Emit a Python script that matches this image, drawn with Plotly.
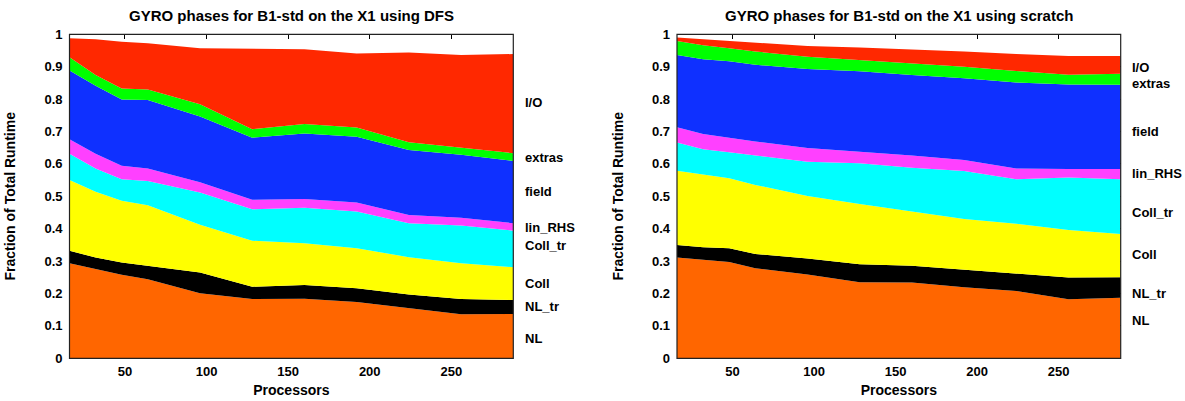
import plotly.graph_objects as go

processors = [16, 32, 48, 64, 96, 128, 160, 192, 224, 256, 288]
phases = ["NL", "NL_tr", "Coll", "Coll_tr", "lin_RHS", "field", "extras", "I/O"]

# Fraction of total runtime for each phase (DFS)
dfs_NL      = [0.293, 0.275, 0.258, 0.244, 0.201, 0.183, 0.184, 0.174, 0.156, 0.136, 0.137]
dfs_NL_tr   = [0.039, 0.036, 0.038, 0.041, 0.064, 0.038, 0.042, 0.042, 0.041, 0.047, 0.043]
dfs_Coll    = [0.218, 0.203, 0.190, 0.187, 0.147, 0.142, 0.129, 0.124, 0.115, 0.110, 0.101]
dfs_Coll_tr = [0.081, 0.072, 0.067, 0.075, 0.100, 0.097, 0.110, 0.113, 0.105, 0.117, 0.113]
dfs_lin_RHS = [0.045, 0.045, 0.041, 0.039, 0.031, 0.029, 0.027, 0.028, 0.025, 0.024, 0.023]
dfs_field   = [0.212, 0.210, 0.205, 0.211, 0.203, 0.192, 0.202, 0.203, 0.201, 0.194, 0.192]
dfs_extras  = [0.041, 0.033, 0.034, 0.033, 0.038, 0.026, 0.029, 0.028, 0.024, 0.022, 0.024]
dfs_IO      = [0.059, 0.111, 0.144, 0.142, 0.173, 0.248, 0.231, 0.229, 0.277, 0.286, 0.306]

# Fraction of total runtime for each phase (scratch)
scr_NL      = [0.311, 0.303, 0.297, 0.278, 0.259, 0.235, 0.234, 0.219, 0.208, 0.182, 0.187]
scr_NL_tr   = [0.039, 0.040, 0.043, 0.044, 0.049, 0.055, 0.052, 0.055, 0.052, 0.067, 0.063]
scr_Coll    = [0.229, 0.225, 0.216, 0.213, 0.193, 0.186, 0.166, 0.156, 0.155, 0.147, 0.134]
scr_Coll_tr = [0.087, 0.077, 0.080, 0.092, 0.106, 0.126, 0.136, 0.148, 0.138, 0.162, 0.169]
scr_lin_RHS = [0.047, 0.047, 0.045, 0.042, 0.042, 0.036, 0.038, 0.034, 0.033, 0.026, 0.031]
scr_field   = [0.223, 0.231, 0.236, 0.237, 0.244, 0.248, 0.248, 0.252, 0.265, 0.261, 0.260]
scr_extras  = [0.043, 0.043, 0.040, 0.041, 0.038, 0.035, 0.036, 0.036, 0.036, 0.030, 0.034]
scr_IO      = [0.011, 0.019, 0.022, 0.027, 0.033, 0.038, 0.044, 0.047, 0.052, 0.058, 0.055]

x_ticks = [50, 100, 150, 200, 250]
titles = ["GYRO phases for B1-std on the X1 using DFS",
          "GYRO phases for B1-std on the X1 using scratch"]

# label placement (fraction axis) for the phase names at the right of each plot
dfs_label_y = [0.062, 0.161, 0.231, 0.347, 0.403, 0.514, 0.619, 0.790]
scr_label_y = [0.118, 0.201, 0.321, 0.451, 0.569, 0.699, 0.849, 0.897]

colors = ["#ff6600", "#000000", "#ffff00", "#00ffff", "#ff40ff", "#0f30ff", "#00ff00", "#ff2800"]

dfs = [dfs_NL, dfs_NL_tr, dfs_Coll, dfs_Coll_tr, dfs_lin_RHS, dfs_field, dfs_extras, dfs_IO]
scr = [scr_NL, scr_NL_tr, scr_Coll, scr_Coll_tr, scr_lin_RHS, scr_field, scr_extras, scr_IO]

FONT = "Liberation Sans, Arial, Helvetica, sans-serif"

fig = go.Figure()
for data, xa, ya, grp in [(dfs, "x", "y", "a"), (scr, "x2", "y2", "b")]:
    for name, vals, col in zip(phases, data, colors):
        fig.add_trace(go.Scatter(
            x=processors, y=vals, name=name, xaxis=xa, yaxis=ya,
            stackgroup=grp, mode="lines", line=dict(width=0, color=col),
            fillcolor=col, showlegend=False, hoverinfo="x+y+name"))

W, H = 1185, 401
left_dom = [69.5 / W, 513.3 / W]
right_dom = [677.0 / W, 1120.7 / W]
y_dom = [(H - 358.3) / H, (H - 34.3) / H]

tickfont = dict(family=FONT, size=13, color="#000000", weight="bold")
axtitlefont = dict(family=FONT, size=14, color="#000000", weight="bold")
titlefont = dict(family=FONT, size=15, color="#000000", weight="bold")

def xaxis(dom, anchor):
    return dict(domain=dom, anchor=anchor, range=[16, 288], tickvals=x_ticks,
                ticks="inside", ticklen=5, tickcolor="#000000", mirror="ticks",
                showgrid=False, zeroline=False, showline=False, layer="below traces",
                tickfont=tickfont, ticklabelstandoff=4,
                title=dict(text="Processors", font=axtitlefont, standoff=6),
                automargin=False, fixedrange=True)

def yaxis(anchor):
    return dict(domain=y_dom, anchor=anchor, range=[0, 1], dtick=0.1, tick0=0,
                ticks="inside", ticklen=5, tickcolor="#000000", mirror="ticks",
                showgrid=False, zeroline=False, showline=False, layer="below traces",
                tickfont=tickfont, ticklabelstandoff=6,
                title=dict(text="Fraction of Total Runtime", font=axtitlefont, standoff=25),
                automargin=False, fixedrange=True)

fig.update_layout(
    width=W, height=H, margin=dict(l=0, r=0, t=0, b=0),
    paper_bgcolor="white", plot_bgcolor="white",
    xaxis=xaxis(left_dom, "y"), yaxis=yaxis("x"),
    xaxis2=xaxis(right_dom, "y2"), yaxis2=yaxis("x2"),
    font=dict(family=FONT, color="#000000"),
)

# frames
for xr, yr in [("x domain", "y domain"), ("x2 domain", "y2 domain")]:
    fig.add_shape(type="rect", xref=xr, yref=yr, x0=0, x1=1, y0=0, y1=1,
                  line=dict(color="#222222", width=1.2), layer="above")

# titles
for dom, t in [(left_dom, titles[0]), (right_dom, titles[1])]:
    fig.add_annotation(text=t, xref="paper", yref="paper", x=(dom[0] + dom[1]) / 2,
                       y=(H - 15) / H, xanchor="center", yanchor="middle",
                       showarrow=False, font=titlefont)

# phase labels
for xr, yr, ys in [("x domain", "y", dfs_label_y), ("x2 domain", "y2", scr_label_y)]:
    for name, yv in zip(phases, ys):
        fig.add_annotation(text=name, xref=xr, yref=yr, x=1.022, y=yv,
                           xanchor="left", yanchor="middle", showarrow=False,
                           font=tickfont)

fig.write_html("out.html", config={"displayModeBar": False},
               post_script="document.body.style.margin='0';")
